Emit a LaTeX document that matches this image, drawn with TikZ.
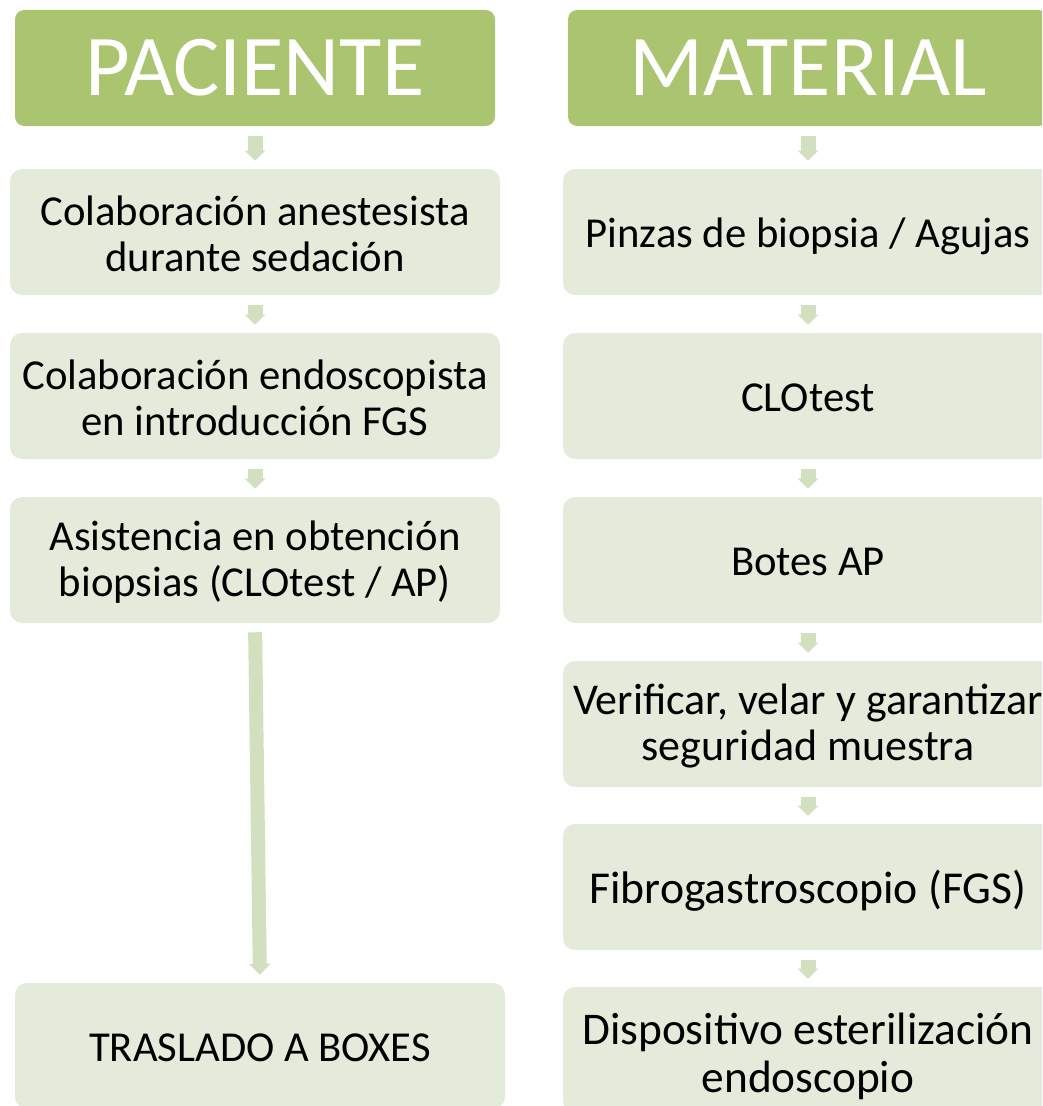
\documentclass[tikz,border=0pt]{standalone}
\usepackage{fontspec}
\setmainfont{Carlito}
\usetikzlibrary{arrows.meta}
\definecolor{hdr}{HTML}{AAC46F}
\definecolor{boxc}{HTML}{E4EBDA}
\definecolor{arrc}{HTML}{D3E0C0}
\begin{document}
\begin{tikzpicture}[x=0.75pt,y=-0.75pt,
  hdrbox/.style={fill=hdr, rounded corners=7pt, inner sep=0pt, text=white,
    minimum width=360pt, minimum height=87pt, font=\fontsize{65}{70}\selectfont},
  stepbox/.style={fill=boxc, rounded corners=9pt, inner sep=0pt, align=center,
    minimum width=367.5pt, minimum height=94.5pt, font=\fontsize{32}{34.5}\selectfont},
  oneline/.style={text height=23pt, text depth=0pt},
  twotext/.style={inner sep=0pt, align=center, yshift=-1.5pt,
    font=\fontsize{32}{34.5}\selectfont},
  smallarrow/.style={draw=arrc, line width=11.25pt, shorten <=7.5pt, shorten >=6pt,
    -{Triangle[width=15pt,length=7.5pt]}},
  longarrow/.style={draw=arrc, line width=10.5pt, shorten <=6.75pt, shorten >=6pt,
    -{Triangle[width=15.75pt,length=8.25pt]}}]
\useasboundingbox (0,0) rectangle (1042,1106);
\clip (0,0) rectangle (1042,1106);

% headers
\node[hdrbox] (hp) at (255,68) {PACIENTE};
\node[hdrbox] (hm) at (808,68) {MATERIAL};

% left column
\node[stepbox] (p1) at (255,232) {};
\node[twotext] (p1t) at (p1.center) {Colaboración anestesista\\durante sedación};
\node[stepbox] (p2) at (255,396) {};
\node[twotext] (p2t) at (p2.center) {Colaboración endoscopista\\en introducción FGS};
\node[stepbox] (p3) at (255,560) {};
\node[twotext] (p3t) at (p3.center) {Asistencia en obtención\\biopsias (CLOtest / AP)};
\node[stepbox,oneline] (p4) at (260,1046) {TRASLADO A BOXES};

% right column
\node[stepbox,oneline] (m1) at (808,232) {Pinzas de biopsia / Agujas};
\node[stepbox,oneline] (m2) at (808,396) {CLOtest};
\node[stepbox,oneline] (m3) at (808,560) {Botes AP};
\node[stepbox] (m4) at (808,724) {};
\node[twotext,font=\fontsize{33}{35}\selectfont] (m4t) at (m4.center)
  {Verificar, velar y garantizar\\seguridad muestra};
\node[stepbox,oneline,text height=24.5pt,font=\fontsize{34.25}{36}\selectfont] (m5) at (808,887)
  {Fibrogastroscopio (FGS)};
\node[stepbox] (m6) at (808,1050) {};
\node[twotext,yshift=-3pt,font=\fontsize{34}{36}\selectfont] (m6t) at (m6.center)
  {Dispositivo esterilización\\endoscopio};

% arrows left
\draw[smallarrow] (hp.south) -- (p1.north);
\draw[smallarrow] (p1.south) -- (p2.north);
\draw[smallarrow] (p2.south) -- (p3.north);
\draw[longarrow] (p3.south) -- (p4.north);

% arrows right
\draw[smallarrow] (hm.south) -- (m1.north);
\draw[smallarrow] (m1.south) -- (m2.north);
\draw[smallarrow] (m2.south) -- (m3.north);
\draw[smallarrow] (m3.south) -- (m4.north);
\draw[smallarrow] (m4.south) -- (m5.north);
\draw[smallarrow] (m5.south) -- (m6.north);
\end{tikzpicture}
\end{document}
